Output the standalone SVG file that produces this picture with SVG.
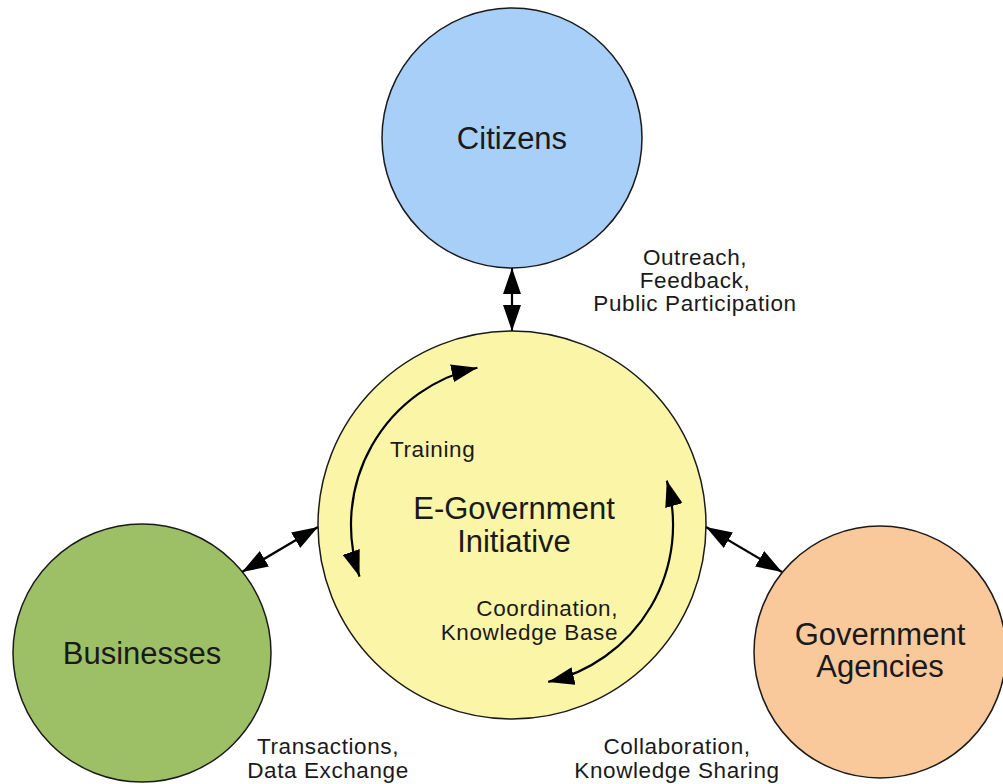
<svg xmlns="http://www.w3.org/2000/svg" width="1003" height="784" viewBox="0 0 1003 784">
<defs>
<marker id="ah" markerUnits="userSpaceOnUse" viewBox="0 0 26 18" refX="26" refY="9" markerWidth="26" markerHeight="18" orient="auto-start-reverse">
<path d="M0,0 L26,9 L0,18 z" fill="#000"/>
</marker>
<style>
.node{stroke:#1a1a1a;stroke-width:1.5}
.big{font-family:"Liberation Sans",Arial,Helvetica,sans-serif;font-size:31px;fill:#1a1a1a;text-anchor:middle}
.lbl{font-family:"Liberation Sans",Arial,Helvetica,sans-serif;font-size:22.5px;letter-spacing:0.6px;fill:#1a1a1a}
.con{stroke:#000;stroke-width:2.2;fill:none;marker-start:url(#ah);marker-end:url(#ah)}
</style>
</defs>
<rect width="1003" height="784" fill="#fff"/>
<g id="citizens">
<circle class="node" cx="512" cy="138" r="130" fill="#a8cff8"/>
<text class="big" x="512" y="149">Citizens</text>
</g>
<g id="egov">
<circle class="node" cx="512" cy="525" r="194" fill="#fbf5a8"/>
<text class="big" x="514" y="519">E-Government</text>
<text class="big" x="514" y="552">Initiative</text>
</g>
<g id="businesses">
<circle class="node" cx="142" cy="653" r="129" fill="#9dc066"/>
<text class="big" x="142" y="664">Businesses</text>
</g>
<g id="agencies">
<circle class="node" cx="880" cy="652" r="126" fill="#f9c99c"/>
<text class="big" x="880" y="645">Government</text>
<text class="big" x="880" y="677">Agencies</text>
</g>
<g id="connectors">
<line class="con" x1="512" y1="268" x2="512" y2="331"/>
<line class="con" x1="242" y1="572" x2="318" y2="527"/>
<line class="con" x1="706" y1="527" x2="782" y2="572"/>
<path class="con" d="M359.5,576.6 A161,161 0 0 1 477.4,367.7"/>
<path class="con" d="M666.8,480.6 A161,161 0 0 1 548.2,681.9"/>
</g>
<g id="labels">
<text class="lbl" x="695" y="265" text-anchor="middle">Outreach,</text>
<text class="lbl" x="695" y="288" text-anchor="middle">Feedback,</text>
<text class="lbl" x="695" y="311" text-anchor="middle">Public Participation</text>
<text class="lbl" x="390" y="457">Training</text>
<text class="lbl" x="618" y="616" text-anchor="end">Coordination,</text>
<text class="lbl" x="618" y="640" text-anchor="end">Knowledge Base</text>
<text class="lbl" x="328" y="754" text-anchor="middle">Transactions,</text>
<text class="lbl" x="328" y="778" text-anchor="middle">Data Exchange</text>
<text class="lbl" x="677" y="754" text-anchor="middle">Collaboration,</text>
<text class="lbl" x="677" y="778" text-anchor="middle">Knowledge Sharing</text>
</g>
</svg>
